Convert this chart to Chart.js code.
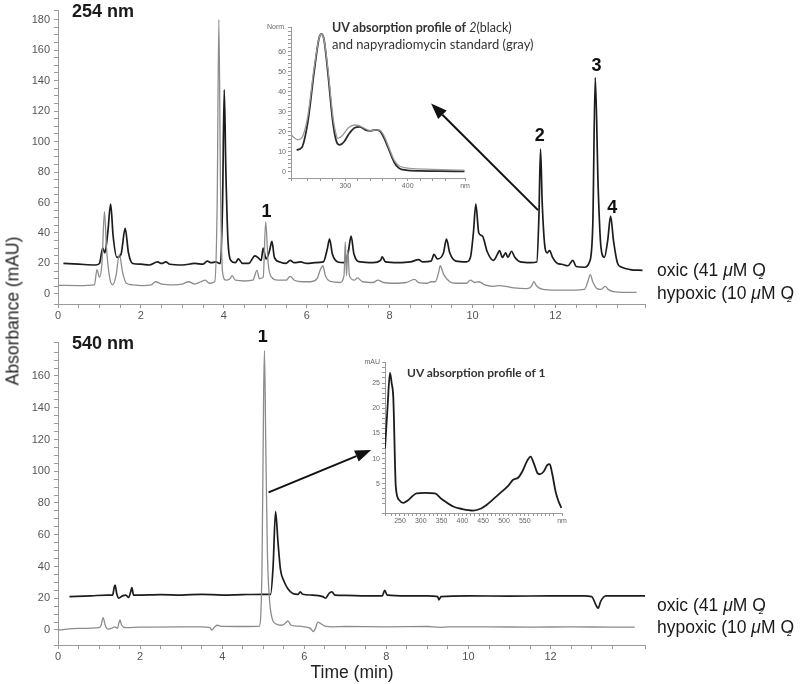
<!DOCTYPE html>
<html lang="en">
<head>
<meta charset="UTF-8">
<title>HPLC chromatograms 254 / 540 nm</title>
<script src="https://cdn.jsdelivr.net/npm/chart.js@4.4.1/dist/chart.umd.min.js"></script>
<style>
    body { margin: 0; background: #fff; }
    #page { position: relative; width: 800px; height: 684px; overflow: hidden;
            font-family: 'Liberation Sans', Arial, sans-serif; color: #1a1a1a; }
    canvas { position: absolute; }
    .txt { position: absolute; white-space: nowrap; }
    .panel-title { font-weight: bold; font-size: 18px; line-height: 20px; }
    .legend { font-size: 17.5px; line-height: 20px; }
    .legend i { font-style: italic; }
    .sub2 { font-size: 9px; font-style: italic; position: relative; left: -7px; top: 3px; }
    .inset-title { font-family: Lato, 'Open Sans', sans-serif; font-size: 13px; line-height: 17px; color: #333; }
    .axis-title { font-size: 17.5px; color: #222; }
</style>
</head>
<body>
<div id="page">
    <canvas id="chartTop" width="660" height="326" style="left:0;top:0"></canvas>
    <canvas id="chartBottom" width="660" height="335" style="left:0;top:330px"></canvas>
    <canvas id="insetTop" width="225" height="172" style="left:250px;top:20px"></canvas>
    <canvas id="insetBottom" width="230" height="172" style="left:345px;top:355px"></canvas>

    <div class="txt panel-title" style="left:72px;top:1px">254 nm</div>
    <div class="txt panel-title" style="left:72px;top:333px">540 nm</div>

    <div class="txt inset-title" style="left:332px;top:19px"><span style="font-size:12.5px"><b>UV absorption profile of</b> <i>2</i>(black)</span><br>and napyradiomycin standard (gray)</div>
    <div class="txt inset-title" style="left:407px;top:364px;font-weight:bold;font-size:12px">UV absorption profile of 1</div>

    <div class="txt legend" style="left:657px;top:260px">oxic (41 <i>μ</i>M O<span class="sub2">2</span></div>
    <div class="txt legend" style="left:657px;top:283px">hypoxic (10 <i>μ</i>M O<span class="sub2">2</span></div>
    <div class="txt legend" style="left:657px;top:595px">oxic (41 <i>μ</i>M O<span class="sub2">2</span></div>
    <div class="txt legend" style="left:657px;top:617px">hypoxic (10 <i>μ</i>M O<span class="sub2">2</span></div>

    <div class="txt axis-title" style="left:13px;top:311px;transform:translate(-50%,-50%) rotate(-90deg)">Absorbance (mAU)</div>
    <div class="txt axis-title" style="left:352px;top:672px;transform:translate(-50%,-50%)">Time (min)</div>
</div>

<script>
// ---- data: [time (min), absorbance (mAU)] ----
const oxic254 = [
    [0.13,20],[0.5,19.5],[0.9,19],[1.0,20],[1.08,30],[1.13,27],[1.2,40],[1.27,59],[1.33,38],[1.42,24],
    [1.52,26],[1.62,43],[1.7,27],[1.8,20],[2.0,19.5],[2.2,19],[2.4,21],[2.5,20],[2.6,21],[2.7,19.5],
    [3.0,19],[3.3,20],[3.5,19.5],[3.6,21.5],[3.7,20.5],[3.8,21],[3.92,20],[3.97,60],[4.01,134],[4.05,80],
    [4.1,35],[4.17,22],[4.28,20.5],[4.35,23],[4.45,20],[4.6,20],[4.75,25],[4.82,24],[4.9,22],[4.95,30],
    [5.02,23],[5.1,28],[5.16,34.5],[5.22,24],[5.35,21],[5.5,20],[5.6,22],[5.7,20.5],[5.85,21],[6.0,20],
    [6.2,20.5],[6.4,21],[6.5,30],[6.55,36],[6.62,26],[6.75,21],[6.9,20.5],[7.0,27],[7.07,38],[7.14,26],
    [7.3,21],[7.6,20.5],[7.78,22],[7.82,24.3],[7.9,21],[8.2,20.5],[8.5,21],[8.7,22.5],[8.8,21],[9.0,21.5],
    [9.07,26],[9.15,23],[9.3,27],[9.37,36],[9.45,27],[9.6,21.5],[9.85,21],[9.95,24],[10.02,40],[10.08,59],
    [10.15,40],[10.24,38],[10.35,28],[10.5,22],[10.6,26],[10.65,28.5],[10.72,24],[10.8,27],[10.85,24],[10.94,28],
    [11.02,24],[11.15,21],[11.4,20.5],[11.55,21],[11.6,50],[11.64,95],[11.68,60],[11.75,30],[11.8,27],[11.86,28.5],
    [11.93,24],[12.05,20],[12.15,19.5],[12.3,18.5],[12.42,22],[12.5,18],[12.7,17.5],[12.82,21],[12.9,45],[12.96,142],
    [13.03,70],[13.1,30],[13.18,24],[13.26,35],[13.33,51],[13.4,35],[13.5,20],[13.6,17.5],[13.8,16],[14.1,15.5]
];
const hypoxic254 = [
    [0,5.6],[0.5,5.5],[0.88,6],[0.94,16],[1.0,11],[1.06,20],[1.12,54],[1.17,30],[1.25,10],[1.32,6],
    [1.4,12],[1.48,26],[1.56,14],[1.65,7],[1.8,6],[2.0,5.5],[2.25,6],[2.35,8],[2.5,6.5],[2.8,6],
    [3.0,6.5],[3.15,8],[3.3,6.5],[3.45,8],[3.55,9],[3.65,7],[3.78,8],[3.84,60],[3.88,180],[3.92,70],
    [3.97,14],[4.05,9],[4.15,10],[4.2,12],[4.28,9],[4.5,8.5],[4.7,9],[4.8,15.5],[4.86,10],[4.95,11],
    [5.01,47.5],[5.07,20],[5.15,11],[5.3,9],[5.5,9],[5.6,11.5],[5.7,9],[5.9,8],[6.1,8],[6.25,10],
    [6.33,16],[6.39,18.5],[6.45,12],[6.6,8],[6.8,7.5],[6.9,12],[6.93,34],[6.96,12],[6.99,29],[7.03,12],
    [7.15,9],[7.22,10.5],[7.35,8],[7.6,7.5],[7.72,9],[7.85,7.5],[8.1,7],[8.4,7.5],[8.6,9.5],[8.7,7.5],
    [8.9,7],[9.0,8],[9.1,8],[9.18,14],[9.22,18.5],[9.3,13],[9.45,8],[9.6,7],[9.85,7],[9.95,9],
    [10.05,7.5],[10.15,8],[10.3,6],[10.5,5],[10.65,5.5],[10.8,5],[11.0,4],[11.3,3.5],[11.42,5],[11.48,8],
    [11.55,5],[11.7,3],[12.0,2.5],[12.4,2.5],[12.7,3],[12.78,8],[12.84,12.7],[12.9,8],[13.0,3.5],[13.1,3],
    [13.2,5],[13.27,3],[13.4,1.5],[13.7,1],[13.96,1]
];
const oxic540 = [
    [0.28,21],[0.8,21.5],[1.2,22],[1.33,22],[1.37,27],[1.39,28.3],[1.43,23],[1.48,20],[1.57,21.5],[1.65,22],
    [1.72,20.5],[1.77,24],[1.8,26.7],[1.84,22],[1.9,22],[2.5,22.3],[3.0,22],[3.5,22.5],[4.0,22],[4.5,22.3],
    [5.0,22.5],[5.18,22.5],[5.24,40],[5.3,74.5],[5.36,55],[5.42,38],[5.5,31],[5.6,26],[5.72,23],[5.85,22.5],
    [5.9,24],[5.96,22.5],[6.2,22],[6.45,21],[6.52,20],[6.6,23],[6.67,24],[6.75,22],[7.0,21.8],[7.5,21.5],
    [7.9,21.5],[7.96,25],[8.02,22],[8.5,21.5],[9.0,21.5],[9.25,21],[9.28,19],[9.33,21],[10.0,21.5],[11.0,21.3],
    [12.0,21.5],[12.8,21.5],[13.0,21],[13.12,15],[13.16,13.7],[13.22,18],[13.35,21.5],[13.8,21.5],[14.3,21.5]
];
const hypoxic540 = [
    [0,0],[0.5,1],[1.0,1.5],[1.05,3],[1.1,7.8],[1.15,3],[1.22,0.5],[1.3,1],[1.38,2],[1.45,1],
    [1.48,4],[1.51,6.3],[1.55,3],[1.65,1.5],[2.0,1.8],[3.0,2],[3.5,2],[3.7,1.5],[3.75,0],[3.82,2],
    [3.88,3],[4.0,2.3],[4.5,2.2],[4.9,2.3],[4.97,40],[5.01,150],[5.03,176],[5.06,120],[5.1,50],[5.15,20],
    [5.22,7],[5.3,4],[5.45,3],[5.55,4.5],[5.6,5.7],[5.68,3],[5.8,2.5],[6.0,2],[6.15,1],[6.22,-1],
    [6.27,1],[6.33,5],[6.4,4],[6.5,2.5],[6.7,2],[7.0,2.2],[8.0,2],[9.0,2.2],[9.3,1.7],[9.5,2],
    [10.5,2],[11.5,1.8],[12.5,2],[13.5,1.8],[14.05,1.8]
];

// ---- inset spectra: [wavelength (nm), value] ----
const spectrum2 = [
    [222,10.9],[230,12],[240,25],[250,50],[258,67],[262,69],[266,66],[272,50],[280,25],[286,15],
    [291,13.4],[298,15],[306,19],[315,22],[323,22.5],[332,21],[340,20.5],[348,21],[355,20.5],[362,17],
    [370,11],[378,5],[385,2],[392,1],[400,0.7],[420,0.4],[450,0.3],[491,0.2]
];
const spectrumStandard = [
    [212,19],[218,17],[224,16],[232,18],[240,28],[250,52],[258,67],[262,69],[266,66],[272,52],
    [280,28],[285,19],[288,16.7],[295,18],[305,22],[315,23.4],[323,23],[332,21.5],[340,20.5],[348,21],
    [355,20.8],[362,18],[370,12],[378,6],[386,3],[395,2],[410,1.5],[440,1.2],[480,0.8],[491,0.7]
];
const spectrum1 = [
    [214,12],[220,20],[226,27],[230,25],[234,22],[240,4.4],[248,1.8],[258,1.2],[270,1.8],[290,3.1],
    [310,3.2],[334,3.1],[350,2],[378,0.5],[400,0],[426,-0.3],[445,0.1],[458,0.8],[475,2],[490,3.1],
    [510,4.6],[522,5.8],[534,6.2],[545,7.6],[556,9.6],[564,10.4],[572,9],[580,7.2],[586,6.9],[595,7.4],
    [604,8.7],[610,8.9],[616,7],[624,3.5],[630,1.8],[638,0.2]
];

Chart.defaults.font.family = "'Liberation Sans', Arial, sans-serif";
Chart.defaults.animation = false;
Chart.defaults.events = [];
Chart.defaults.plugins.legend.display = false;
Chart.defaults.plugins.tooltip.enabled = false;

function pts(arr) {
    return arr.map(([x, y]) => ({x: x, y: y}));
}
function round(v) {
    return Math.round(v * 1000) / 1000;
}

function drawArrow(ctx, x1, y1, x2, y2) {
    const ang = Math.atan2(y2 - y1, x2 - x1);
    const len = 16, half = 6;
    const bx = x2 - len * Math.cos(ang), by = y2 - len * Math.sin(ang);
    ctx.strokeStyle = '#111';
    ctx.fillStyle = '#111';
    ctx.lineWidth = 2;
    ctx.beginPath();
    ctx.moveTo(x1, y1);
    ctx.lineTo(bx, by);
    ctx.stroke();
    ctx.beginPath();
    ctx.moveTo(x2, y2);
    ctx.lineTo(bx + half * Math.sin(ang), by - half * Math.cos(ang));
    ctx.lineTo(bx - half * Math.sin(ang), by + half * Math.cos(ang));
    ctx.closePath();
    ctx.fill();
}

// peak numbers and arrows, placed in data coordinates
const annotate = {
    id: 'annotate',
    afterDatasetsDraw(chart, args, opts) {
        const {ctx} = chart;
        const x = chart.scales.x, y = chart.scales.y;
        ctx.save();
        ctx.fillStyle = '#111';
        ctx.font = "bold 18px 'Liberation Sans', Arial, sans-serif";
        ctx.textAlign = 'center';
        ctx.textBaseline = 'middle';
        (opts.peaks || []).forEach(p => {
            ctx.fillText(p.label, x.getPixelForValue(p.t), y.getPixelForValue(p.v));
        });
        (opts.arrows || []).forEach(a => {
            drawArrow(ctx, x.getPixelForValue(a.from[0]), y.getPixelForValue(a.from[1]),
                           x.getPixelForValue(a.to[0]), y.getPixelForValue(a.to[1]));
        });
        ctx.restore();
    }
};

function axisStyle(tickLen) {
    return {
        grid: {drawOnChartArea: false, drawTicks: true, tickLength: tickLen, color: '#9a9a9a', lineWidth: 1},
        border: {display: true, color: '#9a9a9a', width: 1}
    };
}

function mainChart(id, oxic, hypoxic, yMin, yMax, xMax, yLabelMax, xAxisH, topPad, annot) {
    return new Chart(document.getElementById(id), {
        type: 'line',
        data: {
            datasets: [
                {label: 'hypoxic', data: pts(hypoxic), borderColor: '#8c8c8c', borderWidth: 1.3},
                {label: 'oxic', data: pts(oxic), borderColor: '#1c1c1c', borderWidth: 1.7}
            ]
        },
        options: {
            responsive: false,
            devicePixelRatio: 1,
            layout: {padding: {top: topPad, right: 15, left: 0, bottom: 0}},
            elements: {point: {radius: 0}, line: {cubicInterpolationMode: 'monotone', borderJoinStyle: 'round'}},
            scales: {
                x: Object.assign(axisStyle(4), {
                    type: 'linear', min: 0, max: xMax,
                    afterFit: s => { s.height = xAxisH; },
                    ticks: {
                        stepSize: 0.5, autoSkip: false, maxRotation: 0, padding: 1,
                        color: '#555', font: {size: 11},
                        callback: v => { const r = round(v); return (Number.isInteger(r) && r % 2 === 0 && r <= 12) ? String(r) : ''; }
                    }
                }),
                y: Object.assign(axisStyle(4), {
                    type: 'linear', min: yMin, max: yMax,
                    afterFit: s => { s.width = 58; },
                    ticks: {
                        stepSize: 5, autoSkip: false, padding: 4,
                        color: '#555', font: {size: 11},
                        callback: v => { const r = round(v); return (r % 20 === 0 && r >= 0 && r <= yLabelMax) ? String(r) : ''; }
                    }
                })
            },
            plugins: {annotate: annot}
        },
        plugins: [annotate]
    });
}

mainChart('chartTop', oxic254, hypoxic254, -6.6, 185.9, 14.16, 180, 22, 5, {
    peaks: [
        {label: '1', t: 5.03, v: 54},
        {label: '2', t: 11.62, v: 103.5},
        {label: '3', t: 12.99, v: 149.5},
        {label: '4', t: 13.37, v: 56.5}
    ],
    arrows: [{from: [11.58, 55], to: [9.0, 125]}]
});

mainChart('chartBottom', oxic540, hypoxic540, -9.45, 181.4, 14.3, 160, 20, 12, {
    peaks: [{label: '1', t: 4.99, v: 184.5}],
    arrows: [{from: [5.13, 86.7], to: [7.63, 113.4]}]
});

function insetChart(id, datasets, xMin, xMax, xStep, xLabel, yMin, yMax, yStep, yLabel, yUnit, yAxisW, rightPad) {
    return new Chart(document.getElementById(id), {
        type: 'line',
        data: {datasets: datasets},
        options: {
            responsive: false,
            devicePixelRatio: 1,
            layout: {padding: {top: 7, right: rightPad, left: 0, bottom: 0}},
            elements: {point: {radius: 0}, line: {cubicInterpolationMode: 'monotone', borderJoinStyle: 'round'}},
            scales: {
                x: Object.assign(axisStyle(3), {
                    type: 'linear', min: xMin, max: xMax,
                    afterFit: s => { s.height = 14; },
                    ticks: {
                        stepSize: xStep, autoSkip: false, maxRotation: 0, padding: 1,
                        color: '#666', font: {size: 7},
                        callback: (v, i, t) => i === t.length - 1 ? 'nm' : (xLabel(round(v)) ? String(round(v)) : '')
                    }
                }),
                y: Object.assign(axisStyle(3), {
                    type: 'linear', min: yMin, max: yMax,
                    afterFit: s => { s.width = yAxisW; },
                    ticks: {
                        stepSize: yStep, autoSkip: false, padding: 2,
                        color: '#666', font: {size: 7},
                        callback: (v, i, t) => i === t.length - 1 ? yUnit : (yLabel(round(v)) ? String(round(v)) : '')
                    }
                })
            }
        }
    });
}

insetChart('insetTop', [
        {data: pts(spectrumStandard), borderColor: '#9a9a9a', borderWidth: 1.3},
        {data: pts(spectrum2), borderColor: '#2a2a2a', borderWidth: 1.8}
    ],
    213, 491.8, 20, v => v === 300 || v === 400,
    -3.16, 72.5, 2, v => v % 10 === 0 && v >= 0 && v <= 60, 'Norm.', 41, 10);

insetChart('insetBottom', [
        {data: pts(spectrum1), borderColor: '#1c1c1c', borderWidth: 1.8}
    ],
    214, 639.5, 10, v => v % 50 === 0 && v >= 250 && v <= 550,
    -0.79, 29.17, 1, v => v % 5 === 0 && v >= 0 && v <= 25, 'mAU', 40, 13);
</script>
</body>
</html>
